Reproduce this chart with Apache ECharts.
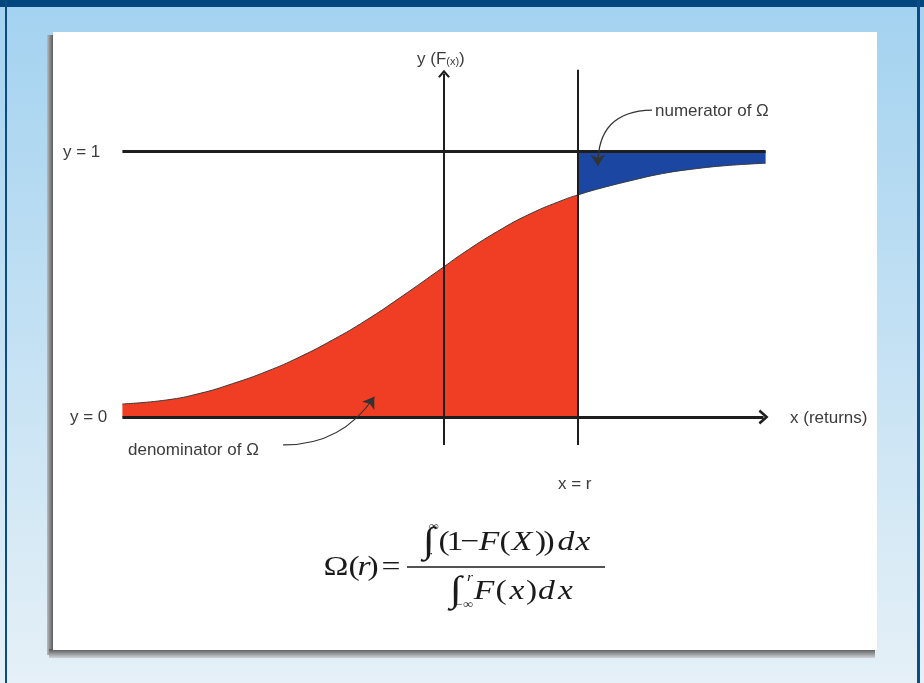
<!DOCTYPE html>
<html>
<head>
<meta charset="utf-8">
<title>Omega ratio</title>
<style>
  html, body { margin: 0; padding: 0; background: #fff; }
  #main { width: 924px; height: 683px; }
</style>
</head>
<body>
<div id="main"></div>
<script src="https://cdn.jsdelivr.net/npm/echarts@6/dist/echarts.min.js"></script>
<script>
// F(x), x in units where r = 1, y from 0 to 1
var curveX = [-2.4, -2.07, -1.82, -1.58, -1.32, -1.08, -0.83, -0.58, -0.33, 0, 0.14, 0.4, 0.64, 0.89, 1.0, 1.14, 1.39, 1.63, 1.89, 2.13, 2.4];
var curveY = [0.049, 0.064, 0.089, 0.125, 0.172, 0.225, 0.29, 0.364, 0.448, 0.565, 0.615, 0.698, 0.763, 0.816, 0.835, 0.856, 0.888, 0.915, 0.934, 0.946, 0.954];
var rValue = 1;
var xStart = -2.4, xEnd = 2.4;
var axisBottom = -0.105;
var yArrowTop = 1.29, rLineTop = 1.305, xArrowTip = 2.385;
var numeratorArrow = [[1.552, 1.154], [1.149, 0.944]];
var denominatorArrow = [[-1.201, -0.105], [-0.52, 0.076]];

var curve = curveX.map(function (x, i) { return [x, curveY[i]]; });
var lower = curve.filter(function (p) { return p[0] <= rValue; });
var upper = curve.filter(function (p) { return p[0] >= rValue; });
var bluePoly = upper.concat([[xEnd, 1], [rValue, 1]]);

var ink = '#1e1e1e';
var txt = '#3c3c3c';
var sans = 'Liberation Sans';
var serif = 'Liberation Serif';
var chevron = 'path://M5,0 L10,5.5 L8.5,6.5 L5,2.5 L1.5,6.5 L0,5.5 Z';

function seg(a, b, width, endSym, endSize) {
  var ls = { color: ink, width: width, type: 'solid' };
  return [
    { coord: a, symbol: 'none', lineStyle: ls },
    { coord: b, symbol: endSym || 'none', symbolSize: endSize || 1, lineStyle: ls }
  ];
}

function label(text, x, y, extra) {
  var st = { text: text, x: x, y: y, font: '17px ' + sans, fill: txt, textVerticalAlign: 'middle' };
  for (var k in extra) st[k] = extra[k];
  return { type: 'text', z: 10, style: st };
}

// formula glyphs, each centred where it sits in the picture, stretched sideways a bit
function g(text, cx, cy, font) {
  return { type: 'text', x: cx, y: cy, scaleX: 1.2, z: 10,
    style: { text: text, font: font, fill: '#1a1a1a', textAlign: 'center', textVerticalAlign: 'middle' } };
}
var up = '28px ' + serif, it = 'italic 28px ' + serif;
var small = '12px ' + serif, smallIt = 'italic 13px ' + serif;

var chart = echarts.init(document.getElementById('main'));
chart.setOption({
  animation: false,
  grid: { left: 42, right: 78, top: 18, bottom: 133 },
  xAxis: { type: 'value', min: -3, max: 3, show: false },
  yAxis: { type: 'value', min: -0.5, max: 1.5, show: false },
  graphic: [
    { type: 'rect', z: -10, shape: { x: 0, y: 0, width: 924, height: 683 },
      style: { fill: new echarts.graphic.LinearGradient(0, 0, 0, 1, [
        { offset: 0, color: '#a3d2f0' }, { offset: 1, color: '#e5f0f7' }]) } },
    { type: 'rect', z: -9, shape: { x: 0, y: 0, width: 924, height: 7 }, style: { fill: '#02467f' } },
    { type: 'rect', z: -9, shape: { x: 5, y: 0, width: 2, height: 683 }, style: { fill: '#0a4c86' } },
    { type: 'rect', z: -9, shape: { x: 917, y: 0, width: 3, height: 683 }, style: { fill: '#0a4c86' } },
    { type: 'rect', z: -8, shape: { x: 47, y: 35, width: 7, height: 620 },
      style: { fill: new echarts.graphic.LinearGradient(0, 0, 1, 0, [
        { offset: 0, color: '#b8bcc0' }, { offset: 1, color: '#4a4a4a' }]) } },
    { type: 'rect', z: -8, shape: { x: 49, y: 649, width: 826, height: 9 },
      style: { fill: new echarts.graphic.LinearGradient(0, 0, 0, 1, [
        { offset: 0, color: '#555555' }, { offset: 1, color: '#cfd4d8' }]) } },
    { type: 'rect', z: -7, shape: { x: 53, y: 32, width: 824, height: 618 }, style: { fill: '#ffffff' } },

    label('y = 1', 63, 152),
    label('y = 0', 70, 417),
    label('x = r', 558, 484),
    label('x (returns)', 790, 418),
    label('numerator of Ω', 655, 111),
    label('denominator of Ω', 128, 450),
    label('{a|y (F}{s|(x)}{a|)}', 417, 59, {
      rich: {
        a: { font: '17px ' + sans, fill: txt },
        s: { font: '11px ' + sans, fill: txt, padding: [6, 0, 0, 0] }
      }
    }),

    // Ω(r) =
    g('Ω', 336, 568, up), g('(', 354, 568, up), g('r', 364, 568, it), g(')', 373, 568, up), g('=', 391, 568, up),
    { type: 'line', z: 10, shape: { x1: 407, y1: 567, x2: 605, y2: 567 }, style: { stroke: '#1a1a1a', lineWidth: 1.5 } },
    // numerator
    g('∫', 429, 543, '36px ' + serif), g('∞', 434, 527, small), g('r', 429, 556, smallIt),
    g('(', 444, 543, up), g('1', 455, 543, up), g('−', 470, 543, up), g('F', 489, 543, it),
    g('(', 505, 543, up), g('X', 522, 543, it), g(')', 540.5, 543, up), g(')', 549, 543, up),
    g('d', 566, 543, it), g('x', 583, 543, it),
    // denominator
    g('∫', 456, 592, '36px ' + serif), g('r', 470, 578, smallIt), g('−∞', 464, 605, small),
    g('F', 484, 592, it), g('(', 501, 592, up), g('x', 517, 592, it), g(')', 531.5, 592, up),
    g('d', 546.5, 592, it), g('x', 565.5, 592, it)
  ],
  series: [
    {
      name: 'denominator',
      type: 'line',
      z: 2,
      data: lower,
      smooth: 0.5,
      symbol: 'none',
      lineStyle: { width: 0 },
      areaStyle: { color: '#ef3e24', opacity: 1, origin: 'auto' },
      silent: true
    },
    {
      name: 'numerator',
      type: 'custom',
      z: 2,
      data: [[rValue, 1]],
      renderItem: function (params, api) {
        var pts = bluePoly.map(function (p) { return api.coord(p); });
        return { type: 'polygon', shape: { points: pts }, style: { fill: '#1b47a3' } };
      },
      silent: true
    },
    {
      name: 'F(x)',
      type: 'line',
      z: 3,
      data: curve,
      smooth: 0.5,
      symbol: 'none',
      lineStyle: { color: '#3a3a3a', width: 1 },
      silent: true
    },
    {
      name: 'guides',
      type: 'line',
      z: 5,
      data: [],
      markLine: {
        silent: true,
        animation: false,
        label: { show: false },
        emphasis: { disabled: true },
        symbol: ['none', 'none'],
        data: [
          seg([xStart, 0], [xArrowTip, 0], 3, chevron, [15, 10]),
          seg([xStart, 1], [xEnd, 1], 3),
          seg([0, axisBottom], [0, yArrowTop], 2, chevron, [12, 8]),
          seg([rValue, axisBottom], [rValue, rLineTop], 2)
        ]
      }
    },
    {
      name: 'pointers',
      type: 'lines',
      coordinateSystem: 'cartesian2d',
      z: 6,
      silent: true,
      symbol: ['none', 'arrow'],
      symbolSize: [7, 11],
      lineStyle: { color: '#333', width: 1.2, opacity: 1 },
      data: [
        { coords: numeratorArrow, lineStyle: { curveness: -0.5 } },
        { coords: denominatorArrow, lineStyle: { curveness: -0.27 } }
      ]
    }
  ]
});
</script>
</body>
</html>
